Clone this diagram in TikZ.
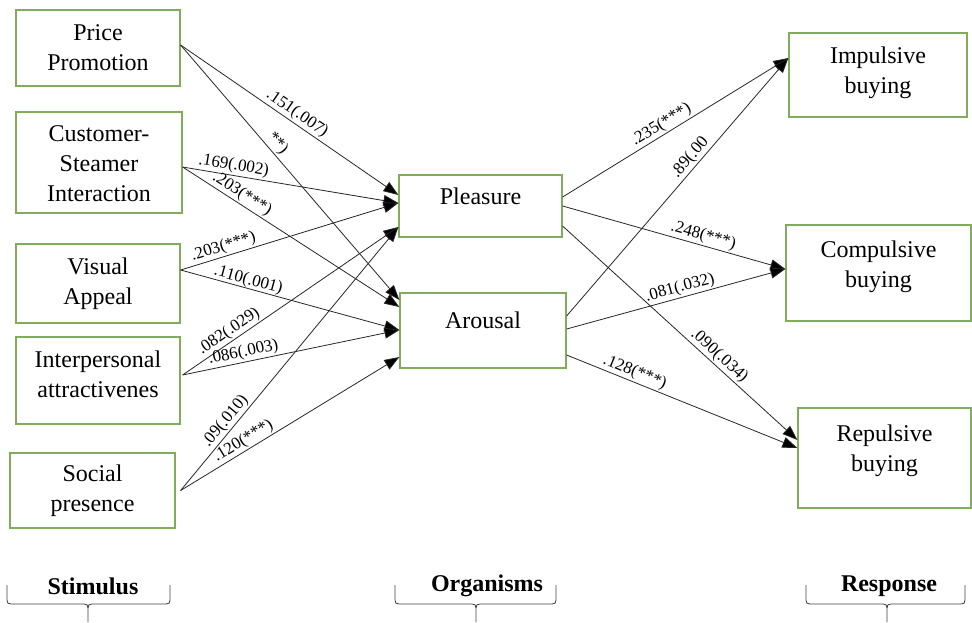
\documentclass[tikz,border=0pt]{standalone}
\usepackage{fontspec}
\setmainfont{Liberation Serif}
\usetikzlibrary{arrows.meta}

\definecolor{boxgreen}{RGB}{128,172,92}
% text set higher in its box without changing the box
\newcommand{\lifted}[2]{\raisebox{#1}[\height][\depth]{\begin{tabular}{@{}c@{}}#2\end{tabular}}}

\begin{document}
\begin{tikzpicture}
  [
    x=1pt, y=-1pt,
    green box/.style={draw=boxgreen, line width=1.2pt, align=center, inner sep=2pt, font=\fontsize{24}{30}\selectfont},
    arrow line/.style={draw=black!85, line width=0.8pt, -{Triangle[length=15pt,width=11pt,fill=black]}},
    path label/.style={sloped, above, inner sep=1.5pt, font=\fontsize{17}{20}\selectfont},
    group label/.style={font=\bfseries\fontsize{24}{28}\selectfont},
    group brace/.style={draw=black!75, line width=0.8pt},
  ]
  \useasboundingbox (0,0) rectangle (972,622);

  % stimulus
  \node(pp)[green box, minimum width=164pt, minimum height=76pt] at (98,48) {Price\\Promotion};
  \node(csi)[green box, minimum width=166pt, minimum height=101pt] at (99,162.5) {\lifted{-3pt}{Customer-\\Steamer\\Interaction}};
  \node(va)[green box, minimum width=164pt, minimum height=79pt] at (98,283.5) {Visual\\Appeal};
  \node(ia)[green box, minimum width=164pt, minimum height=87pt] at (98,380.5) {\lifted{4pt}{Interpersonal\\attractivenes}};
  \node(sp)[green box, minimum width=165pt, minimum height=75pt] at (92.5,490.5) {Social\\presence};

  % organisms
  \node(ple)[green box, minimum width=163pt, minimum height=62pt] at (480.5,206) {\lifted{8pt}{Pleasure}};
  \node(aro)[green box, minimum width=166pt, minimum height=75pt] at (483,330.5) {\lifted{8pt}{Arousal}};

  % response
  \node(imp)[green box, minimum width=178pt, minimum height=84pt] at (878,75) {\lifted{3pt}{Impulsive\\buying}};
  \node(comp)[green box, minimum width=185pt, minimum height=96pt] at (878.5,273) {\lifted{7pt}{Compulsive\\buying}};
  \node(rep)[green box, minimum width=173pt, minimum height=100pt] at (884.5,458) {\lifted{8pt}{Repulsive\\buying}};

  % stimulus -> organisms
  \draw[arrow line] ([yshift=3pt]pp.east) -- node[path label, pos=.51]{.151(.007)} ([yshift=11pt]ple.west);
  \draw[arrow line] ([yshift=3pt]pp.east) -- node[path label, pos=.41]{**)} ([yshift=30.5pt]aro.west);
  \draw[arrow line] ([yshift=-4.5pt]csi.east) -- node[path label, pos=.23]{.169(.002)} ([yshift=3pt]ple.west);
  \draw[arrow line] ([yshift=-4.5pt]csi.east) -- node[path label, pos=.25]{.203(***)} ([yshift=23.5pt]aro.west);
  \draw[arrow line] ([yshift=13.5pt]va.east) -- node[path label, pos=.21]{.203(***)} ([yshift=3pt]ple.west);
  \draw[arrow line] ([yshift=13.5pt]va.east) -- node[path label, pos=.3, inner sep=0pt]{.110(.001)} ([yshift=.5pt]aro.west);
  \draw[arrow line] ([xshift=2pt,yshift=5.5pt]ia.east) -- node[path label, pos=.24]{.082(.029)} ([yshift=-21pt]ple.west);
  \draw[arrow line] ([xshift=2pt,yshift=5.5pt]ia.east) -- node[path label, pos=.29]{.086(.003)} ([yshift=.5pt]aro.west);
  \draw[arrow line] ([xshift=5pt]sp.east) -- node[path label, pos=.24]{.09(.010)} ([yshift=-21pt]ple.west);
  \draw[arrow line] ([xshift=5pt]sp.east) -- node[path label, pos=.31]{.120(***)} ([yshift=-26.5pt]aro.west);

  % organisms -> response
  \draw[arrow line] ([yshift=9pt]ple.east) -- node[path label, pos=.46]{.235(***)} ([yshift=17pt]imp.west);
  \draw[arrow line] ([yshift=14.5pt]aro.east) -- node[path label, pos=.59]{.89(.00} ([yshift=17pt]imp.west);
  \draw[arrow line] (ple.east) -- node[path label, pos=.62]{.248(***)} ([yshift=4pt]comp.west);
  \draw[arrow line] ([yshift=1.5pt]aro.east) -- node[path label, pos=.53]{.081(.032)} ([yshift=4pt]comp.west);
  \draw[arrow line] ([yshift=-20pt]ple.east) -- node[path label, pos=.64]{.090(.034)} ([yshift=18pt]rep.west);
  \draw[arrow line] ([yshift=-24.5pt]aro.east) -- node[path label, pos=.28]{.128(***)} ([yshift=10pt]rep.west);

  % group labels and braces
  \node(stim)[group label] at (93,586) {Stimulus};
  \node(org)[group label] at (487,586) {Organisms};
  \node(resp)[group label] at (889,586) {Response};

  \draw[group brace] (7,585) -- (7,600) .. controls (7,603) and (8,604) .. (11,604) -- (84,604) .. controls (87,604) and (88,605) .. (88,608) -- (88,622);
  \draw[group brace] (88,608) .. controls (88,605) and (89,604) .. (92,604) -- (166,604) .. controls (169,604) and (170,603) .. (170,600) -- (170,585);
  \draw[group brace] (395,585) -- (395,600) .. controls (395,603) and (396,604) .. (399,604) -- (472,604) .. controls (475,604) and (476,605) .. (476,608) -- (476,622);
  \draw[group brace] (476,608) .. controls (476,605) and (477,604) .. (480,604) -- (552,604) .. controls (555,604) and (556,603) .. (556,600) -- (556,585);
  \draw[group brace] (806,585) -- (806,600) .. controls (806,603) and (807,604) .. (810,604) -- (883,604) .. controls (886,604) and (887,605) .. (887,608) -- (887,622);
  \draw[group brace] (887,608) .. controls (887,605) and (888,604) .. (891,604) -- (961,604) .. controls (964,604) and (965,603) .. (965,600) -- (965,585);

\end{tikzpicture}
\end{document}
